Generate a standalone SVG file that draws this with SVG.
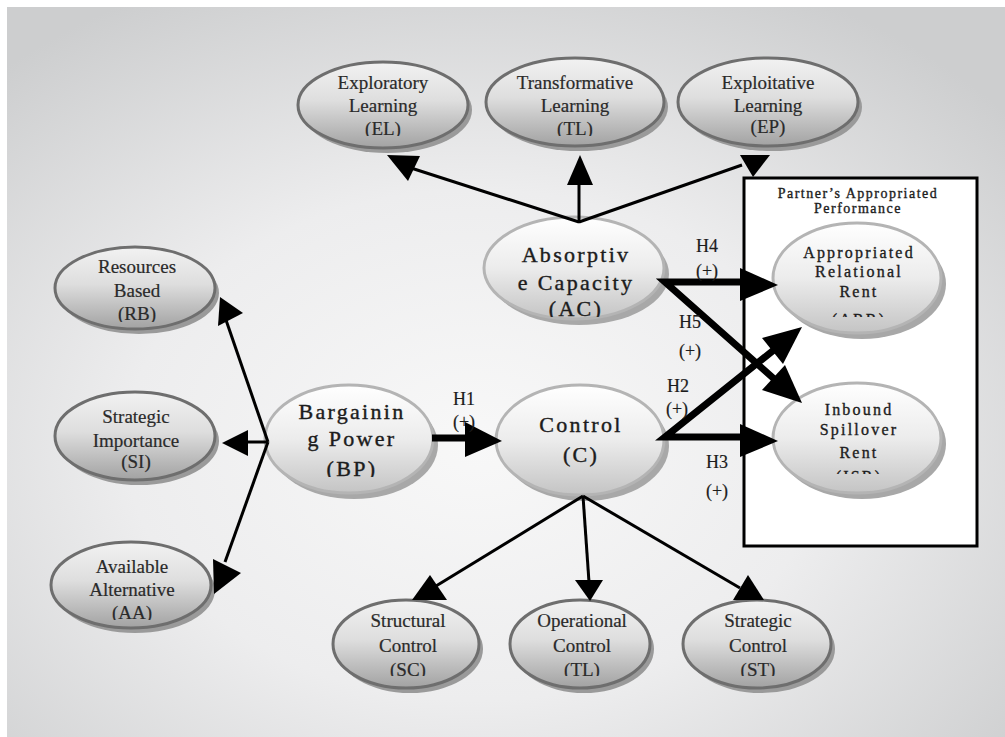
<svg xmlns="http://www.w3.org/2000/svg" width="1005" height="737" viewBox="0 0 1005 737">
<defs>
<radialGradient id="bg" cx="0.47" cy="0.6" r="0.7">
<stop offset="0" stop-color="#f8f8f8"/>
<stop offset="0.5" stop-color="#ededee"/>
<stop offset="1" stop-color="#cdcecf"/>
</radialGradient>
<linearGradient id="gs" x1="0" y1="0" x2="0" y2="1">
<stop offset="0" stop-color="#f2f2f2"/>
<stop offset="0.45" stop-color="#dedede"/>
<stop offset="1" stop-color="#a2a2a2"/>
</linearGradient>
<linearGradient id="gb" x1="0" y1="0" x2="0" y2="1">
<stop offset="0" stop-color="#ffffff"/>
<stop offset="0.5" stop-color="#ececec"/>
<stop offset="1" stop-color="#c4c4c4"/>
</linearGradient>
<clipPath id="cEL"><rect x="280" y="50" width="220" height="86"/></clipPath>
<clipPath id="cTL"><rect x="470" y="50" width="220" height="86"/></clipPath>
<clipPath id="cRB"><rect x="40" y="240" width="200" height="82"/></clipPath>
<clipPath id="cAA"><rect x="40" y="540" width="200" height="80"/></clipPath>
<clipPath id="cBot"><rect x="320" y="600" width="540" height="76"/></clipPath>
<clipPath id="cAC"><rect x="470" y="220" width="220" height="97"/></clipPath>
<clipPath id="cBP"><rect x="250" y="380" width="200" height="97"/></clipPath>
<clipPath id="cARR"><rect x="760" y="230" width="200" height="87"/></clipPath>
<clipPath id="cISR"><rect x="760" y="390" width="200" height="84"/></clipPath>
</defs>
<style>
.sh{fill:#9a9a9a}
.shb{fill:#a8a8a8}
.es{fill:url(#gs);stroke:#6e6e6e;stroke-width:3}
.eb{fill:url(#gb);stroke:#b4b4b4;stroke-width:3}
.ts{font-family:"Liberation Serif",serif;font-size:19px;fill:#2a2a2a;text-anchor:middle;stroke:#2a2a2a;stroke-width:0.2px}
.tb{font-family:"Liberation Serif",serif;font-size:22px;fill:#1c1c1c;text-anchor:middle;letter-spacing:2.3px;stroke:#1c1c1c;stroke-width:0.4px}
.tr{font-family:"Liberation Serif",serif;font-size:16px;fill:#1c1c1c;text-anchor:middle;letter-spacing:2.2px;stroke:#1c1c1c;stroke-width:0.35px}
.th{font-family:"Liberation Serif",serif;font-size:18px;fill:#1c1c1c;text-anchor:middle;stroke:#1c1c1c;stroke-width:0.2px}
.tt{font-family:"Liberation Serif",serif;font-size:14px;fill:#1c1c1c;text-anchor:middle;letter-spacing:1.5px;stroke:#1c1c1c;stroke-width:0.35px}
.thin{stroke:#000;stroke-width:3;fill:none}
.thick{stroke:#000;stroke-width:7;fill:none}
.ah{fill:#000}
</style>
<rect x="0" y="0" width="1005" height="737" fill="#ffffff"/>
<rect x="7" y="7" width="998" height="730" fill="url(#bg)"/>

<g id="box">
<rect x="744" y="178" width="233" height="368" fill="#ffffff" stroke="#000" stroke-width="3"/>
<text class="tt" x="858" y="198">Partner’s Appropriated</text>
<text class="tt" x="858" y="213">Performance</text>
</g>

<g id="node-EL">
<ellipse class="sh" cx="387" cy="110" rx="85" ry="43"/>
<ellipse class="es" cx="383" cy="105" rx="85" ry="43"/>
<g clip-path="url(#cEL)">
<text class="ts" x="383" y="89">Exploratory</text>
<text class="ts" x="383" y="112">Learning</text>
<text class="ts" x="383" y="135">(EL)</text>
</g>
</g>
<g id="node-TL">
<ellipse class="sh" cx="579" cy="107" rx="89" ry="44"/>
<ellipse class="es" cx="575" cy="102" rx="89" ry="44"/>
<g clip-path="url(#cTL)">
<text class="ts" x="575" y="89">Transformative</text>
<text class="ts" x="575" y="112">Learning</text>
<text class="ts" x="575" y="135">(TL)</text>
</g>
</g>
<g id="node-EP">
<ellipse class="sh" cx="772" cy="107" rx="90" ry="44"/>
<ellipse class="es" cx="768" cy="102" rx="90" ry="44"/>
<text class="ts" x="768" y="89">Exploitative</text>
<text class="ts" x="768" y="112">Learning</text>
<text class="ts" x="768" y="133">(EP)</text>
</g>

<g id="node-RB">
<ellipse class="sh" cx="139" cy="293" rx="80" ry="41"/>
<ellipse class="es" cx="135" cy="288" rx="80" ry="41"/>
<g clip-path="url(#cRB)">
<text class="ts" x="137" y="273">Resources</text>
<text class="ts" x="137" y="297">Based</text>
<text class="ts" x="137" y="320">(RB)</text>
</g>
</g>
<g id="node-SI">
<ellipse class="sh" cx="139" cy="441" rx="80" ry="44"/>
<ellipse class="es" cx="135" cy="436" rx="80" ry="44"/>
<text class="ts" x="136" y="423">Strategic</text>
<text class="ts" x="136" y="447">Importance</text>
<text class="ts" x="136" y="468">(SI)</text>
</g>
<g id="node-AA">
<ellipse class="sh" cx="135" cy="590" rx="80" ry="43"/>
<ellipse class="es" cx="131" cy="585" rx="80" ry="43"/>
<g clip-path="url(#cAA)">
<text class="ts" x="132" y="573">Available</text>
<text class="ts" x="132" y="596">Alternative</text>
<text class="ts" x="132" y="619">(AA)</text>
</g>
</g>

<g id="node-SC">
<ellipse class="sh" cx="410" cy="649" rx="73" ry="44"/>
<ellipse class="es" cx="406" cy="644" rx="73" ry="44"/>
<g clip-path="url(#cBot)">
<text class="ts" x="408" y="627">Structural</text>
<text class="ts" x="408" y="652">Control</text>
<text class="ts" x="408" y="676">(SC)</text>
</g>
</g>
<g id="node-OC">
<ellipse class="sh" cx="584" cy="649" rx="70" ry="44"/>
<ellipse class="es" cx="580" cy="644" rx="70" ry="44"/>
<g clip-path="url(#cBot)">
<text class="ts" x="582" y="627">Operational</text>
<text class="ts" x="582" y="652">Control</text>
<text class="ts" x="582" y="676">(TL)</text>
</g>
</g>
<g id="node-ST">
<ellipse class="sh" cx="761" cy="649" rx="74" ry="44"/>
<ellipse class="es" cx="757" cy="644" rx="74" ry="44"/>
<g clip-path="url(#cBot)">
<text class="ts" x="758" y="627">Strategic</text>
<text class="ts" x="758" y="652">Control</text>
<text class="ts" x="758" y="676">(ST)</text>
</g>
</g>

<g id="node-AC">
<ellipse class="shb" cx="579" cy="274" rx="90" ry="51"/>
<ellipse class="eb" cx="574" cy="268" rx="90" ry="51"/>
<g clip-path="url(#cAC)">
<text class="tb" x="576" y="262">Absorptiv</text>
<text class="tb" x="576" y="290">e Capacity</text>
<text class="tb" x="576" y="316">(AC)</text>
</g>
</g>
<g id="node-BP">
<ellipse class="shb" cx="354" cy="445" rx="84" ry="54"/>
<ellipse class="eb" cx="349" cy="439" rx="84" ry="54"/>
<g clip-path="url(#cBP)">
<text class="tb" x="352" y="419">Bargainin</text>
<text class="tb" x="352" y="446">g Power</text>
<text class="tb" x="352" y="476">(BP)</text>
</g>
</g>
<g id="node-C">
<ellipse class="shb" cx="585" cy="446" rx="84" ry="55"/>
<ellipse class="eb" cx="580" cy="440" rx="84" ry="55"/>
<text class="tb" x="581" y="432">Control</text>
<text class="tb" x="581" y="462">(C)</text>
</g>
<g id="node-ARR">
<ellipse class="shb" cx="862" cy="284" rx="84" ry="55"/>
<ellipse class="eb" cx="857" cy="278" rx="84" ry="55"/>
<g clip-path="url(#cARR)">
<text class="tr" x="859" y="258">Appropriated</text>
<text class="tr" x="859" y="277">Relational</text>
<text class="tr" x="859" y="297">Rent</text>
<text class="tr" x="859" y="325">(ARR)</text>
</g>
</g>
<g id="node-ISR">
<ellipse class="shb" cx="862" cy="444" rx="84" ry="55"/>
<ellipse class="eb" cx="857" cy="438" rx="84" ry="55"/>
<g clip-path="url(#cISR)">
<text class="tr" x="859" y="415">Inbound</text>
<text class="tr" x="859" y="435">Spillover</text>
<text class="tr" x="859" y="458">Rent</text>
<text class="tr" x="859" y="482">(ISR)</text>
</g>
</g>

<g id="connectors">
<line class="thin" x1="579" y1="222" x2="411" y2="168"/>
<polygon class="ah" points="387,155 420,156 408,181"/>
<line class="thin" x1="579" y1="223" x2="579" y2="184"/>
<polygon class="ah" points="580,155 567,185 593,185"/>
<line class="thin" x1="579" y1="222" x2="742" y2="165"/>
<polygon class="ah" points="740,155 770,155 753,177"/>

<line class="thin" x1="268" y1="442" x2="226" y2="320"/>
<polygon class="ah" points="220,297 243,313 218,326"/>
<line class="thin" x1="268" y1="442" x2="246" y2="442"/>
<polygon class="ah" points="222,443 248,430 248,456"/>
<line class="thin" x1="268" y1="442" x2="225" y2="562"/>
<polygon class="ah" points="213,559 241,573 214,594"/>

<line class="thin" x1="583" y1="496" x2="436" y2="586"/>
<polygon class="ah" points="430,575 412,600 447,600"/>
<line class="thin" x1="583" y1="496" x2="589" y2="582"/>
<polygon class="ah" points="575,580 603,580 590,601"/>
<line class="thin" x1="583" y1="496" x2="740" y2="588"/>
<polygon class="ah" points="748,575 733,600 764,600"/>

<line class="thick" x1="432" y1="438" x2="467" y2="438"/>
<polygon class="ah" points="465,422 465,457 502,441"/>
<polyline class="thick" points="742,282 665,282 790,393" stroke-linejoin="miter"/>
<polygon class="ah" points="802,403 762,390 785,365"/>
<polygon class="ah" points="740,268 740,301 778,285"/>
<polyline class="thick" points="742,437 665,437 790,337" stroke-linejoin="miter"/>
<polygon class="ah" points="802,327 783,364 762,338"/>
<polygon class="ah" points="740,424 740,457 778,441"/>

<text class="th" x="707" y="252">H4</text>
<text class="th" x="707" y="277">(+)</text>
<text class="th" x="690" y="328">H5</text>
<text class="th" x="690" y="357">(+)</text>
<text class="th" x="678" y="392">H2</text>
<text class="th" x="677" y="415">(+)</text>
<text class="th" x="717" y="468">H3</text>
<text class="th" x="717" y="497">(+)</text>
<text class="th" x="464" y="405">H1</text>
<text class="th" x="464" y="428">(+)</text>
</g>
</svg>
